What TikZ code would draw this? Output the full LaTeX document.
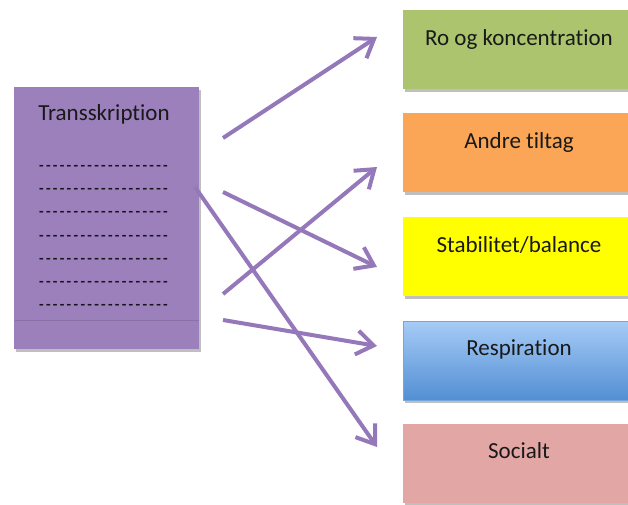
\documentclass[tikz,border=0pt]{standalone}
\usepackage{fontspec}
\setmainfont[Ligatures={TeXOff,NoCommon}]{Carlito}
\usetikzlibrary{arrows.meta,shadows}
\definecolor{boxpurple}{RGB}{155,128,187}
\definecolor{linkpurple}{RGB}{148,120,186}
\definecolor{boxgreen}{RGB}{171,196,109}
\definecolor{boxorange}{RGB}{250,166,86}
\definecolor{boxyellow}{RGB}{255,255,0}
\definecolor{bluetop}{RGB}{166,203,246}
\definecolor{bluebottom}{RGB}{82,143,212}
\definecolor{boxpink}{RGB}{226,166,165}
% a row of spaced hyphens for the blank transcript lines
\newcommand{\hyph}{-\kern2.3pt}
\newcommand{\dashrow}{\hyph\hyph\hyph\hyph\hyph\hyph\hyph\hyph\hyph\hyph\hyph\hyph\hyph\hyph\hyph\hyph\hyph\hyph-}
\begin{document}
\begin{tikzpicture}[x=1pt,y=-1pt,
  card/.style={rectangle, draw=none, anchor=north west, inner sep=0pt,
    drop shadow={shadow xshift=1.5pt,shadow yshift=-2.5pt,opacity=0.25,fill=black}},
  tag/.style={rectangle, draw=none, anchor=north west, inner sep=0pt,
    minimum width=237pt, minimum height=79pt,
    drop shadow={shadow xshift=1.5pt,shadow yshift=-2.5pt,opacity=0.25,fill=black}},
  label/.style={anchor=base, inner sep=0pt, text=black!90,
    font=\fontsize{23}{27}\selectfont},
  rule/.style={anchor=base, inner sep=0pt, text=black!85!boxpurple,
    font=\fontsize{15}{18}\selectfont\bfseries},
  link/.style={draw=linkpurple, line width=4pt,
    -{Straight Barb[length=17pt,width=24pt]}}]
\clip (0,0) rectangle (628,505);
\fill[white] (0,0) rectangle (628,505);

% transcript sheet on the left
\node[card, fill=boxpurple, minimum width=185pt, minimum height=262pt] (sheet) at (14,87) {};
\draw[boxpurple!88!black, line width=0.6pt] (14.5,320) -- (198.5,320);
\node[label] (title) at (104,121) {Transskription};
\foreach \yy [count=\i] in {170,193,216,240,263,286,309}
  \node[rule] (line\i) at (103.5,\yy) {\dashrow};

% category boxes on the right
\node[tag, fill=boxgreen]  (ro)     at (403,10)  {};
\node[tag, fill=boxorange] (andre)  at (403,113) {};
\node[tag, fill=boxyellow] (stab)   at (403,217) {};
\node[tag, top color=bluetop, bottom color=bluebottom, draw=bluebottom!80!white, line width=0.5pt] (resp) at (403,321) {};
\node[tag, fill=boxpink]   (soc)    at (403,424) {};

\node[label] (roT)   at (519,46)  {Ro og koncentration};
\node[label] (andreT) at (519,149) {Andre tiltag};
\node[label] (stabT) at (519,252) {Stabilitet/balance};
\node[label] (respT) at (519,355) {Respiration};
\node[label] (socT)  at (519,458) {Socialt};

% arrow end points
\coordinate (s1) at (223,138);
\coordinate (s2) at (223,192);
\coordinate (s3) at (223,294);
\coordinate (s4) at (223,320);
\coordinate (s5) at (195,187);
\coordinate (e1) at (377,37);
\coordinate (e2) at (377,267);
\coordinate (e3) at (377,167);
\coordinate (e4) at (377,346);
\coordinate (e5) at (377,447);

\draw[link] (s1) -- (e1);
\draw[link] (s2) -- (e2);
\draw[link] (s3) -- (e3);
\draw[link] (s4) -- (e4);
\draw[link] (s5) -- (e5);
\end{tikzpicture}
\end{document}
